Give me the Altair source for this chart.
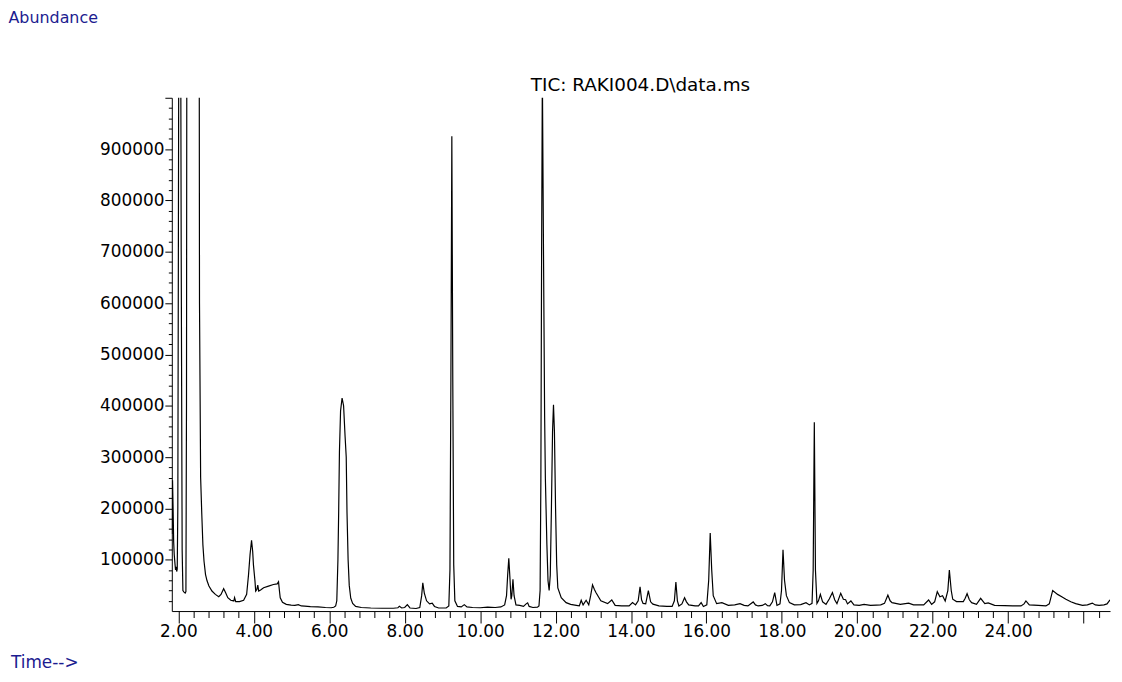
import altair as alt
import pandas as pd

# ---- data (retention time in min, abundance) ----
time_min = [
    1.83, 1.845, 1.86, 1.875, 1.89, 1.91, 1.925, 1.94, 1.955, 1.97, 1.985, 2.00, 2.02, 2.05, 2.075,
    2.10, 2.12, 2.15, 2.18, 2.20, 2.215, 2.235, 2.54, 2.56, 2.59, 2.62, 2.65, 2.68, 2.72, 2.76,
    2.81, 2.89, 2.98, 3.07, 3.13, 3.20, 3.25, 3.31, 3.39, 3.47, 3.49, 3.52, 3.62, 3.73, 3.81,
    3.86, 3.90, 3.94, 3.97, 3.99, 4.03, 4.05, 4.08, 4.105, 4.13, 4.18, 4.26, 4.39, 4.52, 4.62,
    4.655, 4.68, 4.70, 4.76, 4.86, 4.99, 5.09, 5.18, 5.26, 5.35, 5.50, 5.70, 5.90, 6.05, 6.12,
    6.17, 6.20, 6.23, 6.25, 6.27, 6.30, 6.34, 6.38, 6.42, 6.45, 6.47, 6.50, 6.53, 6.57, 6.62,
    6.70, 6.85, 7.10, 7.40, 7.70, 7.82, 7.86, 7.92, 8.00, 8.07, 8.14, 8.30, 8.40, 8.45, 8.48,
    8.52, 8.58, 8.66, 8.73, 8.79, 8.90, 9.10, 9.17, 9.20, 9.225, 9.25, 9.275, 9.30, 9.33, 9.40,
    9.50, 9.58, 9.65, 9.80, 10.00, 10.20, 10.40, 10.55, 10.65, 10.70, 10.73, 10.76, 10.79, 10.82, 10.84,
    10.87, 10.90, 10.95, 11.05, 11.15, 11.22, 11.26, 11.30, 11.40, 11.52, 11.56, 11.59, 11.61, 11.63, 11.65,
    11.68, 11.71, 11.73, 11.77, 11.80, 11.83, 11.86, 11.89, 11.92, 11.945, 11.97, 12.00, 12.03, 12.06, 12.15,
    12.28, 12.40, 12.55, 12.63, 12.68, 12.73, 12.81, 12.88, 12.93, 12.98, 13.03, 13.07, 13.20, 13.38, 13.49,
    13.58, 13.75, 13.95, 14.04, 14.12, 14.19, 14.24, 14.28, 14.32, 14.39, 14.46, 14.52, 14.58, 14.74, 14.95,
    15.09, 15.15, 15.19, 15.23, 15.27, 15.35, 15.42, 15.47, 15.53, 15.70, 15.79, 15.86, 15.92, 16.01, 16.06,
    16.10, 16.14, 16.18, 16.27, 16.41, 16.58, 16.75, 16.89, 17.00, 17.10, 17.24, 17.30, 17.37, 17.48, 17.56,
    17.62, 17.68, 17.75, 17.81, 17.87, 17.95, 17.99, 18.03, 18.07, 18.12, 18.20, 18.33, 18.50, 18.64, 18.73,
    18.80, 18.83, 18.86, 18.89, 18.93, 18.97, 19.02, 19.08, 19.17, 19.26, 19.34, 19.40, 19.46, 19.56, 19.63,
    19.69, 19.74, 19.83, 19.91, 20.05, 20.18, 20.35, 20.50, 20.62, 20.72, 20.81, 20.87, 20.92, 21.14, 21.36,
    21.49, 21.76, 21.89, 21.97, 22.05, 22.12, 22.19, 22.26, 22.33, 22.40, 22.44, 22.49, 22.53, 22.63, 22.81,
    22.86, 22.91, 22.97, 23.03, 23.16, 23.27, 23.38, 23.47, 23.64, 23.90, 24.12, 24.34, 24.42, 24.47, 24.56,
    24.80, 25.00, 25.09, 25.18, 25.31, 25.42, 25.53, 25.66, 25.79, 25.97, 26.10, 26.23, 26.31, 26.41, 26.54,
    26.62, 26.70,
]
abundance = [
    150000, 255000, 200000, 135000, 110000, 92000, 80000, 86000, 77000, 82000, 200000, 700000, 1500000, 1500000, 700000,
    120000, 40000, 37000, 35000, 38000, 400000, 2000000, 2000000, 600000, 260000, 190000, 129000, 97000, 71000, 59000,
    48700, 39000, 32500, 28000, 32500, 43500, 36000, 26000, 21000, 19700, 26000, 18400, 18400, 21000, 32500,
    71000, 110000, 138000, 116000, 90000, 59000, 39000, 42000, 50700, 39000, 41000, 45500, 48700, 51800, 53000,
    57000, 39000, 26000, 17000, 13000, 11500, 11000, 12500, 10000, 9700, 8500, 8000, 7000, 6500, 7500,
    10000, 20000, 100000, 194000, 310000, 390000, 415000, 400000, 340000, 300000, 194000, 100000, 50000, 25000, 15000,
    9000, 7000, 6000, 5500, 5500, 6500, 9500, 6000, 7000, 12500, 6000, 5000, 7000, 30000, 55000,
    35000, 20000, 14000, 15500, 9000, 6000, 6000, 10000, 80000, 450000, 925000, 450000, 90000, 20000, 9000,
    8000, 12500, 8000, 7000, 6500, 7500, 7000, 8000, 12000, 30000, 70000, 103000, 65000, 23000, 30000,
    62000, 30000, 12000, 11000, 9000, 14000, 16000, 9000, 7000, 7500, 10000, 40000, 250000, 700000, 1050000,
    700000, 380000, 258000, 129000, 59000, 40000, 70000, 200000, 350000, 402000, 350000, 200000, 90000, 45000, 26000,
    16400, 13000, 11000, 10000, 21000, 12000, 21000, 12000, 30000, 51000, 42000, 36000, 20000, 14500, 21600,
    11000, 10000, 10000, 16400, 12000, 20000, 47000, 22000, 15000, 14000, 39600, 18000, 13500, 10000, 9000,
    9000, 20000, 56500, 20000, 10000, 14000, 26000, 18000, 12000, 10000, 10000, 16400, 9000, 12000, 60000,
    152000, 80000, 30000, 14500, 16400, 11000, 12000, 14500, 11000, 10000, 17800, 12000, 10000, 11000, 14500,
    10500, 10000, 18000, 36000, 11000, 14000, 40000, 119500, 60000, 30000, 16400, 12000, 12500, 16400, 12000,
    15000, 80000, 368000, 80000, 15000, 20000, 32500, 18000, 13000, 24000, 36000, 22000, 14500, 34500, 23000,
    22000, 14000, 19700, 12000, 11000, 13000, 11000, 11500, 12000, 15000, 31000, 20000, 16400, 13000, 15500,
    12000, 12000, 21600, 13000, 18000, 37700, 28000, 29800, 19700, 40000, 79700, 40000, 23000, 18400, 18400,
    25000, 33800, 22000, 16400, 13000, 24800, 14500, 16000, 11000, 10500, 10000, 10000, 14000, 19700, 12000,
    11000, 10000, 14000, 40200, 32500, 28000, 23000, 18000, 14500, 11000, 12000, 15500, 12000, 11000, 12000,
    14000, 21600,
]

# axis ticks: minor every 0.4 min / 20000 counts, major every 2 min / 100000 counts
x_ticks = [round(2 + 0.4 * i, 1) for i in range(62)]
y_ticks = [20000 * i for i in range(1, 51)]

y_title = "Abundance"
x_title = "Time-->"
trace_title = "TIC: RAKI004.D\\data.ms"

FONT = "DejaVu Sans"
NAVY = "#1c1c90"

df = pd.DataFrame({"time": time_min, "abundance": abundance})

x_major = "abs(datum.value - 2*round(datum.value/2)) < 0.01"
y_major = "datum.value % 100000 === 0"

x_axis = alt.Axis(
    values=x_ticks,
    title=None,
    grid=False,
    tickSize={"condition": {"test": x_major, "value": 12}, "value": 6.5},
    labelExpr=f"({x_major}) && datum.value < 25 ? format(datum.value, '.2f') : ''",
    labelOverlap=False,
    labelFlush=False,
    labelPadding=1,
)
y_axis = alt.Axis(
    values=y_ticks,
    title=None,
    grid=False,
    tickSize={"condition": {"test": y_major, "value": 7}, "value": 3.5},
    labelExpr=f"({y_major}) && datum.value > 0 && datum.value < 1000000 ? format(datum.value, 'd') : ''",
    labelOverlap=False,
    labelFlush=False,
    labelPadding=1,
    labelBaseline="middle",
)

line = alt.Chart(df).mark_line(color="black", strokeWidth=1.2, clip=True).encode(
    x=alt.X("time:Q", scale=alt.Scale(domain=[1.826, 26.70], nice=False, zero=False), axis=x_axis),
    y=alt.Y("abundance:Q", scale=alt.Scale(domain=[0, 1000000], nice=False, zero=False), axis=y_axis),
    order=alt.Order("time:Q"),
)


def label(text, x, y, color, size, align="left"):
    return alt.Chart(pd.DataFrame({"t": [text]})).mark_text(
        align=align, baseline="alphabetic", font=FONT, fontSize=size, color=color
    ).encode(x=alt.value(x), y=alt.value(y), text="t:N")


chart = alt.layer(
    line,
    label(y_title, -164.5, -75.5, NAVY, 16),
    label(x_title, -162, 574, NAVY, 17),
    label(trace_title, 472, -7, "black", 18.5, align="center"),
).properties(
    width=945,
    height=517,
    autosize=alt.AutoSizeParams(type="none"),
    padding={"left": 165, "top": 88, "right": 4, "bottom": 66},
    background="white",
).configure_view(stroke=None).configure_axis(
    domainColor="black",
    domainWidth=1,
    tickColor="black",
    tickWidth=1,
    labelColor="black",
    labelFont=FONT,
    labelFontSize=17,
)

chart.save("out.html", embed_options={"renderer": "svg", "actions": False})
